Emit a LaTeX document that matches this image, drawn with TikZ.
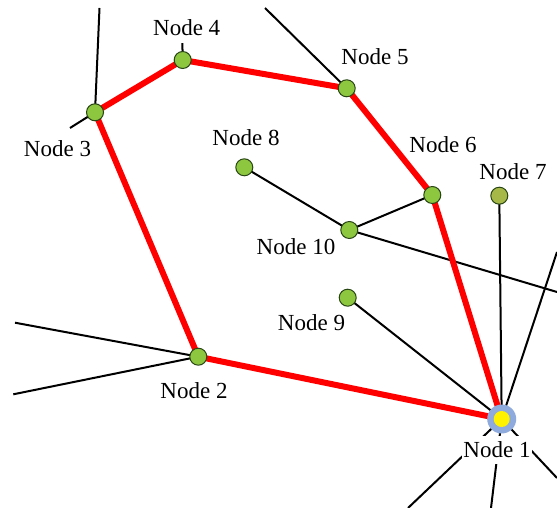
\documentclass[tikz,border=0pt]{standalone}
\usepackage{fontspec}
\setmainfont{Liberation Serif}
\usetikzlibrary{backgrounds}
\definecolor{nodegreen}{RGB}{141,198,63}
\definecolor{nodeborder}{RGB}{40,70,20}
\definecolor{olivenode}{RGB}{166,184,72}
\definecolor{halo}{RGB}{143,170,220}
\definecolor{coreyellow}{RGB}{255,242,0}
\definecolor{pathred}{RGB}{255,0,0}
\tikzset{
  gnode/.style={circle, fill=nodegreen, draw=nodeborder, line width=1pt, minimum size=17pt, inner sep=0pt},
  onode/.style={circle, fill=olivenode, draw=nodeborder, line width=1pt, minimum size=17pt, inner sep=0pt},
  halonode/.style={circle, fill=halo, minimum size=29pt, inner sep=0pt},
  corenode/.style={circle, fill=coreyellow, minimum size=16pt, inner sep=0pt},
  lbl/.style={fill=white, inner sep=1pt, text height=20pt, text depth=6pt, anchor=base, font=\fontsize{23}{26}\selectfont},
  link/.style={black, line width=2pt},
  route/.style={pathred, line width=6pt, line join=round, line cap=round}
}
\begin{document}
\begin{tikzpicture}[x=1pt, y=-1pt]
\useasboundingbox (0,0) rectangle (557,508);
% nodes
\node[halonode] (n1h) at (501.7,419) {};
\node[corenode] (n1) at (501.7,419) {};
\node[gnode] (n2) at (198.3,356.7) {};
\node[gnode] (n3) at (95,112.3) {};
\node[gnode] (n4) at (182.7,60) {};
\node[gnode] (n5) at (346.7,88.3) {};
\node[gnode] (n6) at (432.3,195) {};
\node[onode] (n7) at (499.3,195.7) {};
\node[gnode] (n8) at (244.3,167.3) {};
\node[gnode] (n9) at (347.7,297.7) {};
\node[gnode] (n10) at (349.3,230) {};
% free ends
\coordinate (e3a) at (99.5,8);
\coordinate (e3b) at (70,128);
\coordinate (e4a) at (182.2,34);
\coordinate (e5a) at (265,8);
\coordinate (e2a) at (15,322.7);
\coordinate (e2b) at (13.3,394.3);
\coordinate (e10a) at (557,292);
\coordinate (e1a) at (557,252);
\coordinate (e1b) at (408,508);
\coordinate (e1c) at (491,508);
\coordinate (e1d) at (557,478);
\begin{pgfonlayer}{background}
\fill[white] (0,0) rectangle (557,508);
\draw[link] (n3.center) -- (e3a);
\draw[link] (n3.center) -- (e3b);
\draw[link] (n4.center) -- (e4a);
\draw[link] (n5.center) -- (e5a);
\draw[link] (n2.center) -- (e2a);
\draw[link] (n2.center) -- (e2b);
\draw[link] (n8.center) -- (n10.center) -- (n6.center);
\draw[link] (n10.center) -- (e10a);
\draw[link] (n9.center) -- (n1.center);
\draw[link] (n7.center) -- (n1.center);
\draw[link] (n1.center) -- (e1a);
\draw[link] (n1.center) -- (e1b);
\draw[link] (n1.center) -- (e1c);
\draw[link] (n1.center) -- (e1d);
\draw[route] (n1.center) -- (n2.center) -- (n3.center) -- (n4.center) -- (n5.center) -- (n6.center) -- (n1.center);
\end{pgfonlayer}
% labels
\node[lbl] (l1) at (497,457) {Node 1};
\node[lbl] (l2) at (194,398.3) {Node 2};
\node[lbl] (l3) at (57.5,156.5) {Node 3};
\node[lbl] (l4) at (186.7,36) {Node 4};
\node[lbl] (l5) at (375,65) {Node 5};
\node[lbl] (l6) at (443,152.7) {Node 6};
\node[lbl] (l7) at (513,179.3) {Node 7};
\node[lbl] (l8) at (246,145.5) {Node 8};
\node[lbl] (l9) at (311.5,330.5) {Node 9};
\node[lbl] (l10) at (296,254) {Node 10};
\end{tikzpicture}
\end{document}
